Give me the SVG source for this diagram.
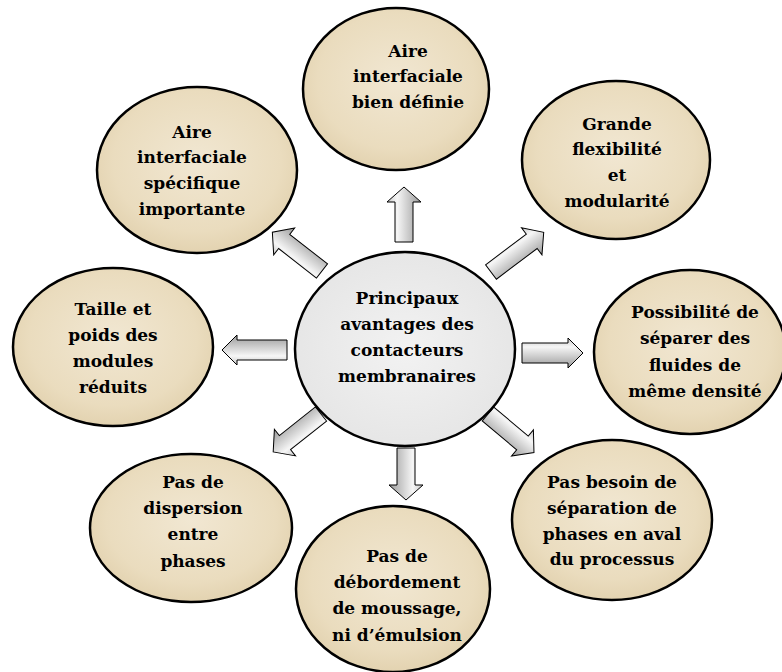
<svg xmlns="http://www.w3.org/2000/svg" width="782" height="672" viewBox="0 0 782 672">
<defs>
<radialGradient id="parch" cx="50%" cy="45%" r="60%">
<stop offset="0" stop-color="#f1e7d2"/>
<stop offset="0.7" stop-color="#eadcbe"/>
<stop offset="1" stop-color="#e0cfab"/>
</radialGradient>
<radialGradient id="granite" cx="50%" cy="50%" r="60%">
<stop offset="0" stop-color="#f2f2f2"/>
<stop offset="1" stop-color="#e4e4e4"/>
</radialGradient>
<linearGradient id="steel" x1="0" y1="0" x2="0" y2="1">
<stop offset="0" stop-color="#c8c8c8"/>
<stop offset="0.3" stop-color="#f6f6f6"/>
<stop offset="1" stop-color="#9a9a9a"/>
</linearGradient>
</defs>
<style>
.n{fill:url(#parch);stroke:#000;stroke-width:2.5}
.c{fill:url(#granite);stroke:#000;stroke-width:2.5}
.a{fill:url(#steel);stroke:#000;stroke-width:1}
text{font-family:"DejaVu Serif","Liberation Serif",serif;font-weight:bold;font-size:17px;fill:#000;text-anchor:middle}
</style>
<rect width="782" height="672" fill="#fff"/>
<g id="connectors">
<path class="a" transform="translate(404,242) rotate(-90)" d="M0,-9 H40 V-17 L55,0 L40,17 V9 H0 Z"/>
<path class="a" transform="translate(491,272) rotate(-37)" d="M0,-9 H51 V-17 L66,0 L51,17 V9 H0 Z"/>
<path class="a" transform="translate(522,353)" d="M0,-10 H46 V-15 L61,0 L46,15 V10 H0 Z"/>
<path class="a" transform="translate(488,414) rotate(40)" d="M0,-9 H45 V-17 L60,0 L45,17 V9 H0 Z"/>
<path class="a" transform="translate(406,448) rotate(90)" d="M0,-9 H37 V-17 L52,0 L37,17 V9 H0 Z"/>
<path class="a" transform="translate(321,414) rotate(141.6)" d="M0,-9 H46 V-17 L61,0 L46,17 V9 H0 Z"/>
<path class="a" transform="translate(287,350) rotate(180)" d="M0,-10 H50 V-15 L65,0 L50,15 V10 H0 Z"/>
<path class="a" transform="translate(322,271) rotate(-142)" d="M0,-9 H48 V-17 L63,0 L48,17 V9 H0 Z"/>
</g>
<g id="center">
<ellipse class="c" cx="405" cy="349" rx="110" ry="97"/>
<text x="407" y="304">Principaux</text>
<text x="407" y="330">avantages des</text>
<text x="407" y="356">contacteurs</text>
<text x="407" y="382">membranaires</text>
</g>
<g id="n-top">
<ellipse class="n" cx="396" cy="89" rx="93" ry="81"/>
<text x="408" y="57">Aire</text>
<text x="408" y="82">interfaciale</text>
<text x="408" y="108">bien définie</text>
</g>
<g id="n-topright">
<ellipse class="n" cx="616" cy="160" rx="94" ry="79"/>
<text x="617" y="130">Grande</text>
<text x="617" y="155">flexibilité</text>
<text x="617" y="181">et</text>
<text x="617" y="207">modularité</text>
</g>
<g id="n-topleft">
<ellipse class="n" cx="197" cy="170" rx="100" ry="83"/>
<text x="192" y="138">Aire</text>
<text x="192" y="163">interfaciale</text>
<text x="192" y="189">spécifique</text>
<text x="192" y="215">importante</text>
</g>
<g id="n-left">
<ellipse class="n" cx="113" cy="347" rx="100" ry="79"/>
<text x="113" y="315">Taille et</text>
<text x="113" y="341">poids des</text>
<text x="113" y="367">modules</text>
<text x="113" y="393">réduits</text>
</g>
<g id="n-right">
<ellipse class="n" cx="690" cy="352" rx="96" ry="82"/>
<text x="695" y="318">Possibilité de</text>
<text x="695" y="344">séparer des</text>
<text x="695" y="371">fluides de</text>
<text x="695" y="397">même densité</text>
</g>
<g id="n-bottomleft">
<ellipse class="n" cx="191" cy="528" rx="101" ry="74"/>
<text x="193" y="488">Pas de</text>
<text x="193" y="514">dispersion</text>
<text x="193" y="540">entre</text>
<text x="193" y="567">phases</text>
</g>
<g id="n-bottom">
<ellipse class="n" cx="393" cy="589" rx="97" ry="83"/>
<text x="397" y="562">Pas de</text>
<text x="397" y="588">débordement</text>
<text x="397" y="614">de moussage,</text>
<text x="397" y="641">ni d’émulsion</text>
</g>
<g id="n-bottomright">
<ellipse class="n" cx="612" cy="520" rx="100" ry="80"/>
<text x="612" y="488">Pas besoin de</text>
<text x="612" y="514">séparation de</text>
<text x="612" y="540">phases en aval</text>
<text x="612" y="565">du processus</text>
</g>
</svg>
